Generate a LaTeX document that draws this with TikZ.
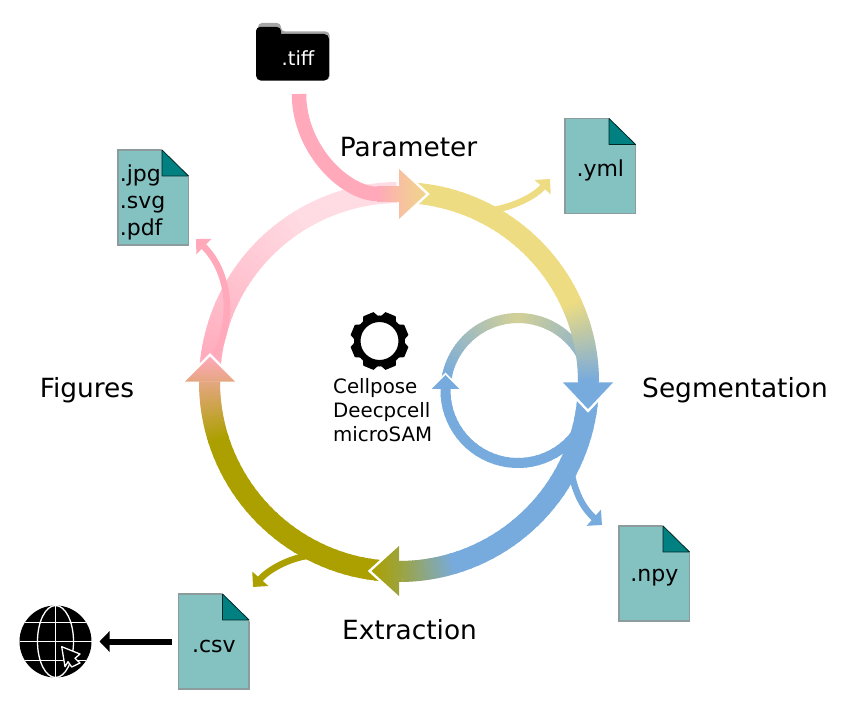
\documentclass[tikz,border=0pt]{standalone}
\usepackage{fontspec}
\setmainfont{DejaVu Sans}
\usetikzlibrary{arrows.meta}
\definecolor{flowpink}{HTML}{FFA9BB}
\definecolor{flowpale}{HTML}{FFDBE3}
\definecolor{flowyellow}{HTML}{EEDC82}
\definecolor{flowblue}{HTML}{78ABDD}
\definecolor{flowolive}{HTML}{ABA000}
\definecolor{sheetfill}{HTML}{84C1C1}
\definecolor{sheetedge}{HTML}{8C9B9B}
\definecolor{sheetfold}{HTML}{008080}
\colorlet{olivemix}{flowolive!73!flowblue}
\colorlet{pinkmix}{flowpink!68!flowolive}
\colorlet{parammix}{flowpink!55!flowyellow}
\tikzstyle{steplabel} = [font=\fontsize{26.4}{30}\selectfont]
\tikzstyle{toollabel} = [font=\fontsize{19.8}{24}\selectfont, align=left, anchor=west, inner sep=0pt]
\tikzstyle{sheet} = [draw=sheetedge, fill=sheetfill, line width=1.2pt, minimum width=70.5pt, minimum height=95pt, inner sep=0pt, outer sep=0pt]
\tikzstyle{sheettext} = [inner sep=0pt, text width=67pt, font=\fontsize{22}{27}\selectfont]
\tikzstyle{branch} = [line width=6.5pt, -{Triangle[width=21pt,length=11pt]}]
\tikzstyle{webline} = [draw=white, line width=1.3pt]
\newcommand{\flowarc}[7]{
  \foreach \k in {0,...,30}{
    \pgfmathsetmacro{\anga}{#4+(#5-#4)*\k/31}
    \pgfmathsetmacro{\angb}{#4+(#5-#4)*(\k+1.3)/31}
    \pgfmathsetmacro{\mixval}{100*\k/30}
    \draw[line width=#3, color=#7!\mixval!#6] (#1) ++(\anga:#2) arc[start angle=\anga, end angle=\angb, radius=#2];
  }
}
\newcommand{\flowhead}[7]{
  \begin{scope}[shift={#2}, rotate=#3]
    \coordinate (#1-tip) at (0,0);
    \coordinate (#1-a) at (-#4,#5/2);
    \coordinate (#1-b) at (-#4,-#5/2);
    \draw[white, line width=#6, miter limit=10] (#1-a) -- (#1-tip) -- (#1-b);
    \shade[#7] (#1-a) -- (#1-tip) -- (#1-b) -- cycle;
  \end{scope}
}
\newcommand{\sheetnode}[4]{
  \node[sheet] (#1) at #2 {};
  \draw[white, fill=white, line width=1.5pt] (#1.north east) ++(-26.5,1) -- ++(27.5,0) -- ++(0,-27.5) -- cycle;
  \draw[black!70!sheetfold, fill=sheetfold, line width=0.8pt, line join=round] (#1.north east) ++(-26.5,0) -- ++(26.5,-26) -- ++(-26.5,0) -- cycle;
  \node[sheettext, align=#4, yshift=-4.5pt] (#1-text) at (#1.center) {#3};
}

\begin{document}
\begin{tikzpicture}[x=1pt,y=1pt]
\useasboundingbox (0,0) rectangle (858,706);
\coordinate (ringc) at (399,324);
\coordinate (loopc) at (518,315.5);

\flowarc{loopc}{72.5}{10pt}{170}{90}{flowblue}{flowyellow!76!flowblue}
\flowarc{loopc}{72.5}{10pt}{90}{25}{flowyellow!76!flowblue}{flowyellow!20!flowblue}
\flowarc{loopc}{72.5}{10pt}{-30}{-180}{flowblue}{flowblue}

\flowarc{ringc}{189.5}{21pt}{88}{25}{flowyellow}{flowyellow}
\flowarc{ringc}{189.5}{21pt}{25}{0}{flowyellow}{flowblue}
\flowarc{ringc}{189.5}{21pt}{-2}{-73}{flowblue}{flowblue}
\flowarc{ringc}{189.5}{21pt}{-73}{-90}{flowblue}{olivemix}
\flowarc{ringc}{189.5}{21pt}{-92}{-162}{flowolive}{flowolive}
\flowarc{ringc}{189.5}{21pt}{-162}{-180}{flowolive}{pinkmix}
\flowarc{ringc}{189.5}{21pt}{177}{120}{flowpink}{flowpale}
\flowarc{ringc}{189.5}{21pt}{120}{91}{flowpale}{flowpale}

\coordinate (ymlout) at (488,495);
\coordinate (ymlin) at (550,527);
\coordinate (npyout) at (571,236);
\coordinate (npyin) at (602,181);
\coordinate (csvout) at (318,151);
\coordinate (csvin) at (253,119);
\coordinate (figout) at (210,341);
\coordinate (figin) at (196,467);
\coordinate (tiffout) at (299,612);
\coordinate (tiffin) at (378,512);
\draw[branch, flowyellow] (ymlout) .. controls (510,498) and (533,508) .. (ymlin);
\draw[branch, flowblue] (npyout) .. controls (575,211) and (585,196) .. (npyin);
\draw[branch, flowolive] (csvout) .. controls (295,151) and (270,138) .. (csvin);
\draw[branch, flowpink] (figout) .. controls (238,386) and (228,436) .. (figin);
\draw[line width=14.5pt, flowpink] (tiffout) .. controls (299,557) and (345,512) .. (tiffin);
\shade[left color=flowpink, right color=parammix] (377,504.75) rectangle (399.5,519.25);

\flowhead{parameter}{(426,512)}{0}{27}{50}{5pt}{left color=parammix, right color=flowyellow!85!flowpink}
\flowhead{segment}{(588,297)}{-90}{26.5}{50}{5pt}{left color=flowblue, right color=flowblue}
\flowhead{extract}{(371.5,135)}{180}{27.5}{50}{5pt}{left color=flowolive, right color=olivemix}
\flowhead{figure}{(210,349.3)}{90}{25}{50}{5pt}{bottom color=pinkmix, top color=flowpink}
\flowhead{loop}{(445.5,331)}{90}{14}{27.5}{3.5pt}{left color=flowblue, right color=flowblue}

\sheetnode{yml}{(600.3,540)}{.yml}{center}
\sheetnode{jpg}{(153.3,508.5)}{.jpg\\.svg\\.pdf}{left}
\sheetnode{npy}{(654.3,132.5)}{.npy}{center}
\sheetnode{csv}{(213.8,64.5)}{.csv}{center}

\fill[black!35] [rounded corners=4pt] (258,626) -- (258,683) -- (281,683) -- (281,674.5) -- (329.7,674.5) -- (329.7,626) -- cycle;
\node[fill=black, rounded corners=5pt, minimum width=73pt, minimum height=46.7pt, inner sep=0pt, outer sep=0pt] (folder) at (292.5,648.7) {};
\fill[black, rounded corners=4pt] (256,660) -- (256,679) -- (281,679) -- (281,660) -- cycle;
\node[white, font=\fontsize{19.5}{24}\selectfont, inner sep=0pt] (tiff) at (298,648) {.tiff};

\node[steplabel] (paramtext) at (408.5,559) {Parameter};
\node[steplabel] (segtext) at (735,316) {Segmentation};
\node[steplabel] (extracttext) at (409.5,76) {Extraction};
\node[steplabel] (figtext) at (87,316) {Figures};

\node[circle, draw=black, line width=6.5pt, minimum size=44.5pt, inner sep=0pt, outer sep=0pt] (gear) at (379.5,365) {};
\foreach \a in {22.5,67.5,...,337.5}{
  \fill[shift={(gear.center)}, rotate=\a] (22,-9) -- (29,-5.5) -- (29,5.5) -- (22,9) -- cycle;
}
\node[toollabel] (tools) at (333,295.5) {Cellpose\\Deecpcell\\microSAM};

\node[circle, fill=black, minimum size=72pt, inner sep=0pt, outer sep=0pt] (globe) at (55.5,64.5) {};
\draw[webline] (globe.west) -- (globe.east);
\draw[webline] (globe.north) -- (globe.south);
\draw[webline] (globe.center) ellipse[x radius=18, y radius=36];
\draw[webline] ([yshift=19pt]globe.center) ++(-30.6,0) -- ++(61.2,0);
\draw[webline] ([yshift=-19pt]globe.center) ++(-30.6,0) -- ++(61.2,0);
\draw[webline, fill=black, line join=round] (61.7,59.3) -- (80,52) -- (75,47.7) -- (80,43) -- (71.7,39) -- (68,44.3) -- (65,39.3) -- cycle;
\draw[line width=6pt, shorten <=7pt, shorten >=8pt, -{Triangle[width=20pt,length=10pt]}] (csv.west) -- (globe.east);
\end{tikzpicture}
\end{document}
